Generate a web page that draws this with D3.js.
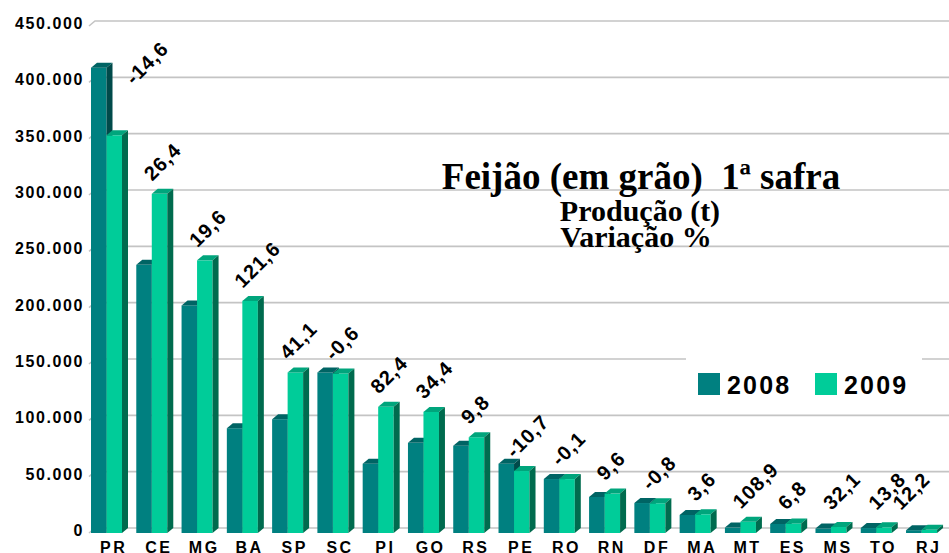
<!DOCTYPE html>
<html>
<head>
<meta charset="utf-8">
<script src="https://cdn.jsdelivr.net/npm/d3@7"></script>
<style>
  body { margin: 0; background: #fff; }
  svg { display: block; }
</style>
</head>
<body>
<div id="chart"></div>
<script>
// data (toneladas)
const categories = ["PR", "CE", "MG", "BA", "SP", "SC", "PI", "GO", "RS", "PE",
                    "RO", "RN", "DF", "MA", "MT", "ES", "MS", "TO", "RJ"];
const prod2008 = [413000, 238000, 202000, 93000, 101000, 142500, 61500, 80000, 77500, 61500,
                  47900, 32000, 26600, 16000, 4800, 8000, 4000, 4400, 2500];
const prod2009 = [353000, 301000, 242000, 206000, 142500, 141600, 112000, 107500, 85000, 55000,
                  47850, 35000, 26400, 16600, 10000, 8500, 5300, 5000, 2800];
const variation = [-14.6, 26.4, 19.6, 121.6, 41.1, -0.6, 82.4, 34.4, 9.8, -10.7,
                   -0.1, 9.6, -0.8, 3.6, 108.9, 6.8, 32.1, 13.8, 12.2];
const yTicks = [0, 50000, 100000, 150000, 200000, 250000, 300000, 350000, 400000, 450000];
const seriesNames = ["2008", "2009"];
const titleLines = ["Feijão (em grão)  1ª safra", "Produção (t)", "Variação %"];

const width = 949;
const height = 553;
const barW = 15.5;   // front face width of one bar
const dx = 6, dy = 5; // 3d depth offset
const sans = "'Liberation Sans', Arial, sans-serif";
const serif = "'Liberation Serif', 'Times New Roman', serif";

const colors = {
    "2008": { front: "#008080", top: "#006464", side: "#004a4a" },
    "2009": { front: "#00cc99", top: "#00a57c", side: "#006b4e" }
};

const br = d3.formatLocale({ decimal: ",", thousands: ".", grouping: [3], currency: ["", ""], minus: "-" });
const fmtTick = br.format(",.0f");
const fmtVar = br.format(".1f");

const svg = d3.select("#chart")
              .append("svg")
              .attr("width", width)
              .attr("height", height);

const x = d3.scaleBand()
            .domain(categories)
            .range([88, 88 + 19 * 45.28]);

const y = d3.scaleLinear()
            .domain([0, 450000])
            .range([533, 26]);

// back wall grid lines
const grid = svg.append("g");
yTicks.forEach(t => {
    const yy = y(t);
    grid.append("path")
        .attr("d", `M89,${yy} L${89 + dx},${yy - dy} L${width},${yy - dy}`)
        .attr("fill", "none")
        .attr("stroke", "#c4c4c4")
        .attr("stroke-width", 1.6);
});

// y axis labels
svg.append("g")
   .selectAll("text")
   .data(yTicks)
   .enter()
   .append("text")
   .attr("x", 84)
   .attr("y", d => y(d) - 2.5)
   .attr("dy", "0.35em")
   .attr("text-anchor", "end")
   .style("font-family", sans)
   .style("font-size", "16px")
   .style("font-weight", "bold")
   .style("letter-spacing", "1.6px")
   .text(d => fmtTick(d));

// title (no background, grid shows through)
const titleSpec = [
    { x: 641, y: 189, size: 37 },
    { x: 640, y: 221, size: 30 },
    { x: 636, y: 247, size: 30 }
];
svg.append("g")
   .selectAll("text")
   .data(titleLines)
   .enter()
   .append("text")
   .attr("x", (d, i) => titleSpec[i].x)
   .attr("y", (d, i) => titleSpec[i].y)
   .attr("text-anchor", "middle")
   .style("font-family", serif)
   .style("font-weight", "bold")
   .style("font-size", (d, i) => titleSpec[i].size + "px")
   .style("white-space", "pre")
   .text(d => d);

// legend with white box over the grid
const legend = svg.append("g");
legend.append("rect")
      .attr("x", 686)
      .attr("y", 350)
      .attr("width", 236)
      .attr("height", 60)
      .attr("fill", "#fff");
const legendItems = legend.selectAll(".legendItem")
                          .data(seriesNames)
                          .enter()
                          .append("g")
                          .attr("class", "legendItem")
                          .attr("transform", (d, i) => `translate(${698 + i * 117}, 373)`);
legendItems.append("rect")
           .attr("width", 22)
           .attr("height", 22)
           .attr("fill", d => colors[d].front);
legendItems.append("text")
           .attr("x", 29)
           .attr("y", 20.5)
           .style("font-family", sans)
           .style("font-size", "25px")
           .style("font-weight", "bold")
           .style("letter-spacing", "2.2px")
           .text(d => d);

// 3d bars
function drawBar(g, x0, v, c) {
    const yt = y(v), yb = y(0);
    g.append("rect")
     .attr("x", x0)
     .attr("y", yt)
     .attr("width", barW)
     .attr("height", yb - yt)
     .attr("fill", c.front);
    g.append("path")
     .attr("d", `M${x0},${yt} L${x0 + dx},${yt - dy} L${x0 + barW + dx},${yt - dy} L${x0 + barW},${yt} Z`)
     .attr("fill", c.top);
    g.append("path")
     .attr("d", `M${x0 + barW},${yt} L${x0 + barW + dx},${yt - dy} L${x0 + barW + dx},${yb - dy} L${x0 + barW},${yb} Z`)
     .attr("fill", c.side);
}

const bars = svg.append("g");
categories.forEach((cat, i) => {
    const g = bars.append("g");
    const x0 = x(cat) + 3;
    drawBar(g, x0, prod2008[i], colors["2008"]);
    drawBar(g, x0 + barW, prod2009[i], colors["2009"]);
});

// variation labels, rotated
const labels = svg.append("g")
                  .style("font-family", sans)
                  .style("font-size", "20px")
                  .style("font-weight", "bold")
                  .style("letter-spacing", "1px");
categories.forEach((cat, i) => {
    const y08 = y(prod2008[i]), y09 = y(prod2009[i]);
    let lx = Math.min(x(cat) + 19, width - 48);
    let ly = Math.min(y09 - dy - 7, y(0) - 22);
    if (y08 < y09 - 30) {
        // 2008 bar much taller: move label to the right of the pair
        lx = x(cat) + 3 + 2 * barW + dx + 6;
        ly = y08 + 18;
    }
    labels.append("text")
          .attr("transform", `translate(${lx},${ly}) rotate(-45)`)
          .text(fmtVar(variation[i]));
});

// category labels (cut by the bottom edge, as in the original)
svg.append("g")
   .selectAll("text")
   .data(categories)
   .enter()
   .append("text")
   .attr("x", d => x(d) + x.bandwidth() / 2 + 3)
   .attr("y", 553)
   .attr("text-anchor", "middle")
   .style("font-family", sans)
   .style("font-size", "16px")
   .style("font-weight", "bold")
   .style("letter-spacing", "2.5px")
   .text(d => d);
</script>
</body>
</html>
